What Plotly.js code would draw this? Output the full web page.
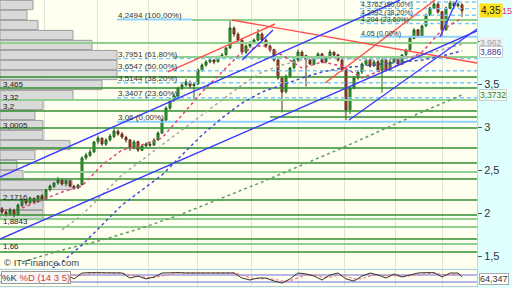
<!DOCTYPE html>
<html><head><meta charset="utf-8">
<script src="https://cdn.plot.ly/plotly-3.0.1.min.js"></script>
<style>html,body{margin:0;padding:0;background:#e0ffff}#c{width:512px;height:288px}</style>
</head><body><div id="c"></div>
<script>
// ---------- candles (index 0..115) ----------
const open  = [2.05,2.01,1.99,2.03,1.98,2.09,2.15,2.12,2.17,2.13,2.20,2.16,2.27,2.31,2.35,2.38,2.34,2.37,2.31,2.29,
2.33,2.64,2.67,2.71,2.83,2.87,2.80,2.85,2.89,2.95,2.92,2.88,2.85,2.76,2.83,2.73,2.78,2.80,2.79,2.85,
2.93,3.08,3.22,3.31,3.36,3.45,3.49,3.52,3.48,3.50,3.66,3.72,3.76,3.78,3.76,3.81,3.84,3.92,4.15,4.08,
4.01,3.87,3.94,3.98,4.01,4.08,4.01,3.94,3.90,3.78,3.57,3.41,3.59,3.69,3.78,3.87,3.83,3.78,3.73,3.80,
3.85,3.76,3.80,3.87,3.84,3.78,3.66,3.20,3.45,3.57,3.64,3.73,3.78,3.71,3.76,3.66,3.78,3.66,3.76,3.80,
3.73,3.84,3.90,4.03,4.13,4.06,4.18,4.30,4.38,4.43,4.34,4.13,4.38,4.44,4.41,4.42];
const high  = [2.07,2.04,2.06,2.05,2.11,2.17,2.16,2.19,2.18,2.21,2.22,2.28,2.33,2.36,2.42,2.40,2.39,2.38,2.33,2.34,
2.66,2.70,2.74,2.84,2.90,2.88,2.87,2.92,2.98,2.97,2.94,2.90,2.86,2.85,2.84,2.80,2.82,2.83,2.87,2.95,
3.10,3.24,3.34,3.39,3.47,3.52,3.56,3.54,3.52,3.68,3.74,3.78,3.80,3.79,3.83,3.86,3.93,4.25,4.17,4.10,
4.03,3.96,4.00,4.03,4.14,4.10,4.03,3.96,3.91,3.80,3.59,3.61,3.70,3.80,3.90,3.89,3.84,3.79,3.82,3.87,
3.86,3.82,3.90,3.88,3.85,3.79,3.67,3.47,3.59,3.66,3.75,3.80,3.79,3.78,3.77,3.80,3.79,3.78,3.82,3.81,
3.85,3.91,4.06,4.15,4.14,4.19,4.32,4.40,4.46,4.45,4.35,4.40,4.47,4.46,4.45,4.44];
const low   = [1.99,1.96,1.97,1.95,1.97,2.07,2.09,2.10,2.11,2.12,2.14,2.15,2.25,2.29,2.33,2.32,2.31,2.30,2.27,2.28,
2.32,2.62,2.65,2.70,2.80,2.78,2.78,2.83,2.87,2.90,2.86,2.82,2.72,2.74,2.71,2.72,2.76,2.77,2.78,2.84,
2.92,3.07,3.20,3.29,3.34,3.43,3.47,3.45,3.31,3.49,3.64,3.70,3.74,3.73,3.75,3.80,3.83,3.91,4.05,3.99,
3.84,3.85,3.92,3.96,4.00,3.99,3.92,3.87,3.76,3.55,3.17,3.39,3.57,3.67,3.76,3.80,3.47,3.72,3.72,3.79,
3.74,3.74,3.79,3.82,3.76,3.64,3.08,3.15,3.44,3.55,3.62,3.71,3.69,3.70,3.64,3.40,3.64,3.65,3.74,3.71,
3.72,3.82,3.88,4.02,4.04,4.05,4.16,4.29,4.37,4.32,4.05,4.12,4.37,4.39,4.39,4.28];
const close = [2.012,1.988,2.035,1.977,2.093,2.151,2.117,2.175,2.128,2.198,2.163,2.268,2.314,2.349,2.384,2.337,2.372,2.314,2.291,2.326,
2.640,2.675,2.710,2.826,2.872,2.803,2.849,2.895,2.954,2.919,2.884,2.849,2.756,2.826,2.733,2.779,2.803,2.791,2.849,2.930,
3.082,3.221,3.314,3.360,3.454,3.489,3.524,3.477,3.500,3.663,3.721,3.756,3.779,3.756,3.814,3.837,3.919,4.151,4.082,4.012,
3.872,3.942,3.977,4.012,4.082,4.012,3.942,3.896,3.779,3.570,3.407,3.593,3.686,3.779,3.872,3.826,3.779,3.733,3.802,3.849,
3.756,3.802,3.872,3.837,3.779,3.663,3.200,3.454,3.570,3.640,3.733,3.779,3.709,3.756,3.663,3.779,3.663,3.756,3.802,3.733,
3.837,3.896,4.035,4.128,4.058,4.175,4.303,4.384,4.430,4.337,4.128,4.384,4.442,4.407,4.430,4.3515];

// ---------- moving averages (sampled at candle index) ----------
const maPinkX = [5,10,15,20,25,30,35,40,45,50,55,60,65,70,75,80,85,90,95,100,105,110,115];
const maPinkY = [2.058,2.151,2.244,2.314,2.558,2.733,2.791,2.872,3.140,3.407,3.640,3.872,3.954,3.837,3.686,3.756,3.710,3.570,3.663,3.733,3.872,4.128,4.268];
const maGrayX = [15,20,25,30,35,40,45,50,55,60,65,70,75,80,85,90,95,100,105,110,115];
const maGrayY = [1.803,1.977,2.210,2.442,2.617,2.791,2.965,3.140,3.314,3.489,3.640,3.721,3.779,3.803,3.803,3.779,3.779,3.803,3.837,3.896,3.962];
const maBlueX = [10,15,20,25,30,35,40,45,50,55,60,65,70,75,80,85,90,95,100,105,110,115];
const maBlueY = [1.279,1.430,1.628,1.861,2.093,2.268,2.442,2.675,2.907,3.105,3.279,3.407,3.489,3.570,3.640,3.686,3.710,3.733,3.756,3.779,3.826,3.886];
const maGreenX = [5,15,25,35,45,55,65,75,85,95,105,115];
const maGreenY = [1.430,1.570,1.686,1.826,1.989,2.175,2.361,2.558,2.756,2.965,3.175,3.3732];

// ---------- horizontal support / resistance levels ----------
const greenDark      = [3.582,3.454,3.186,3.117,2.989,2.756,2.582,2.396,2.151,1.977,1.698,1.547];
const greenDarkFrom  = [-0.5,-0.5,-0.5,67,-0.5,-0.5,-0.5,-0.5,-0.5,-0.5,-0.5,-0.5];
const greenLight     = [4.244,3.977,3.814,3.314,2.477,1.930,1.837,1.640];
const greenLightFrom = [47.5,-0.5,42.75,-0.5,5.5,-0.5,-0.5,-0.5];

// ---------- Fibonacci retracements ----------
const fibLeft      = [4.2494,3.7951,3.6547,3.5144,3.3407,3.06];
const fibLeftPct   = ["100,00%","61,80%","50,00%","38,20%","23,60%","0,00%"];
const fibRight     = [4.4533,4.3762,4.2992,4.204,4.05];
const fibRightPct  = ["61,80%","50,00%","38,20%","23,60%","0,00%"];

// ---------- trend lines [x0, y0, x1, y1] ----------
const blueLines = [[-0.5,2.419,99.5,4.477],[-0.5,1.698,118.75,4.117],[86.75,3.082,118.75,4.140],[60,3.779,67.75,4.128],[109.5,4.047,113.75,4.477]];
const redLines  = [[57.5,4.244,118.75,3.744],[41.5,3.640,68.25,4.198],[80.75,3.512,108.25,4.477]];

// ---------- volume at price profile ----------
const profileLevels = [4.419,4.303,4.186,4.070,3.954,3.837,3.721,3.605,3.489,3.372,3.256,3.140,3.023,2.907,2.791,2.675,2.558,2.442,2.326,2.210,2.093,1.977];
const profileVol    = [33,27,38,73,92,117,117,117,102,73,43,35,43,43,70,35,17,23,72,43,43,43];
const profileLabels = ["3,465","3,32","3,2","3,0005","2,1716","1,8843","1,66"];
const profileLabelY = [3.500,3.349,3.244,3.023,2.186,1.896,1.605];

// ---------- stochastic ----------
const stochX = [14,16,18,20,22,24,26,28,30,32,34,36,38,40,42,44,46,48,50,52,54,56,58,60,62,64,66,68,70,72,74,76,78,80,82,84,86,88,90,92,94,96,98,100,102,104,106,108,110,112,114,115];
const stochK = [97,89,46,97,100,100,97,100,97,54,71,46,63,97,100,100,97,97,100,97,100,100,97,54,37,54,54,28,11,46,97,89,71,37,80,97,46,28,71,97,80,54,89,63,80,97,100,100,63,97,97,64.347];
const stochD = [92,93,76,78,92,99,99,99,98,80,66,58,58,72,88,99,99,98,98,98,99,99,98,80,56,48,50,44,28,30,56,80,82,62,62,78,72,46,48,72,84,72,74,70,74,82,92,99,84,82,88,80];
const stochBands = [20,80];

// ---------- axis ticks / grid ----------
const priceTicks = [1.5,2,2.5,3,3.5,4,4.5];
const priceTickText = ["1,5","2","2,5","3","3,5","","4,5"];
const periodGrid = [10.5,23.75,36.5,48.75,62.25,74,85.5,98.25,110];
const lastPrice = 4.3515;
const maLast = [3.9620,3.8860,3.3732];

const X0 = -0.5, X1 = 118.75;
const idx = close.map((_, i) => i);
const comma = v => String(v).replace('.', ',');

const traces = [];
traces.push({type:'bar', orientation:'h', x:profileVol, y:profileLevels, xaxis:'x', yaxis:'y', width:0.108,
  marker:{color:'#d9d9d9', line:{color:'#9c9c9c', width:1}}, hoverinfo:'skip'});

function segTrace(levels, froms, to, color, width, dash) {
  const xs = [], ys = [];
  levels.forEach((v, k) => { xs.push(froms[k], to, null); ys.push(v, v, null); });
  return {type:'scatter', mode:'lines', x:xs, y:ys, xaxis:'x2', yaxis:'y', line:{color, width, dash:dash||'solid'}, hoverinfo:'skip'};
}
traces.push(segTrace(greenLight, greenLightFrom, X1, '#8fcf8f', 2));
traces.push(segTrace(greenDark, greenDarkFrom, X1, '#2f8f2f', 1.4));
traces.push(segTrace([fibLeft[0]], [28.75], 47.5, '#8fd3ff', 2));
traces.push(segTrace([fibLeft[5]], [28.75], X1, '#8fd3ff', 2));
traces.push(segTrace(fibLeft.slice(1,5), [28.75,28.75,28.75,28.75], X1, '#7cc8ff', 1.4, '4px,3px'));
traces.push(segTrace([fibRight[4]], [89.5], X1, '#8fd3ff', 2));
traces.push(segTrace(fibRight.slice(0,4), [89.5,89.5,89.5,89.5], X1, '#7cc8ff', 1.4, '4px,3px'));

const maDash = '3px,3px';
traces.push({type:'scatter', mode:'lines', x:maGreenX, y:maGreenY, xaxis:'x2', yaxis:'y', line:{color:'#5f9f5f', width:1.5, dash:maDash}, hoverinfo:'skip'});
traces.push({type:'scatter', mode:'lines', x:maBlueX, y:maBlueY, xaxis:'x2', yaxis:'y', line:{color:'#4a4ad0', width:1.5, dash:maDash}, hoverinfo:'skip'});
traces.push({type:'scatter', mode:'lines', x:maGrayX, y:maGrayY, xaxis:'x2', yaxis:'y', line:{color:'#a8a8a8', width:1.5, dash:maDash}, hoverinfo:'skip'});
traces.push({type:'scatter', mode:'lines', x:maPinkX, y:maPinkY, xaxis:'x2', yaxis:'y', line:{color:'#e2457e', width:1.5, dash:maDash}, hoverinfo:'skip'});

function lineTrace(lines, color) {
  const xs = [], ys = [];
  lines.forEach(l => { xs.push(l[0], l[2], null); ys.push(l[1], l[3], null); });
  return {type:'scatter', mode:'lines', x:xs, y:ys, xaxis:'x2', yaxis:'y', line:{color, width:1.4}, hoverinfo:'skip'};
}
traces.push(lineTrace(redLines, '#ff4d4d'));
traces.push(lineTrace(blueLines, '#3b3bff'));

traces.push({type:'candlestick', x:idx, open, high, low, close, xaxis:'x2', yaxis:'y', whiskerwidth:0,
  increasing:{line:{color:'#1f5f1f', width:1}, fillcolor:'#2fb52f'},
  decreasing:{line:{color:'#5c2a1c', width:1}, fillcolor:'#c9421e'}, hoverinfo:'skip'});

const bands = segTrace(stochBands, [X0, X0], X1, '#6f6fe8', 1.2);
bands.xaxis = 'x3'; bands.yaxis = 'y2';
traces.push(bands);
traces.push({type:'scatter', mode:'lines', x:stochX, y:stochD, xaxis:'x3', yaxis:'y2', line:{color:'#f08080', width:1.2, dash:'3px,2px'}, hoverinfo:'skip'});
traces.push({type:'scatter', mode:'lines', x:stochX, y:stochK, xaxis:'x3', yaxis:'y2', line:{color:'#333333', width:1}, hoverinfo:'skip'});

const ann = [];
const F = 'Liberation Sans, Arial, sans-serif';
fibLeft.forEach((v, k) => ann.push({xref:'x2', yref:'y', x:28.75, y:v, xanchor:'left', yanchor:'middle', yshift:4, showarrow:false,
  text: comma(v) + ' (' + fibLeftPct[k] + ')', font:{family:F, size:8, color:'#333'}, borderpad:0}));
const fibRightShift = [0, 4, 2.5, 3, 3];
fibRight.forEach((v, k) => { if (k > 0) ann.push({xref:'x2', yref:'y', x:89.5, y:v, xanchor:'left', yanchor:'middle', yshift:fibRightShift[k], showarrow:false,
  text: comma(v) + ' (' + fibRightPct[k] + ')', font:{family:F, size:7, color:'#333'}, borderpad:0}); });
profileLabels.forEach((t, k) => ann.push({xref:'paper', yref:'y', x:0.004, y:profileLabelY[k], xanchor:'left', yanchor:'middle', showarrow:false,
  text:t, font:{family:F, size:8, color:'#222'}, borderpad:0}));
const R = 479/477;
ann.push({xref:'paper', yref:'y', x:R, y:lastPrice, xanchor:'left', yanchor:'middle', showarrow:false,
  text:'4,35', bgcolor:'#ffe21a', font:{family:F, size:10, color:'#222'}, borderpad:1});
ann.push({xref:'paper', yref:'y', x:501/477, y:lastPrice, xanchor:'left', yanchor:'middle', showarrow:false,
  text:'15', font:{family:F, size:9, color:'#e0307a'}, borderpad:0});
ann.push({xref:'paper', yref:'y', x:R, y:maLast[0], yshift:1, xanchor:'left', yanchor:'middle', showarrow:false,
  text:comma(maLast[0]), bgcolor:'#eeeeee', font:{family:F, size:8.5, color:'#a0a0a0'}, borderpad:0});
ann.push({xref:'paper', yref:'y', x:R, y:maLast[1], yshift:-1, xanchor:'left', yanchor:'middle', showarrow:false,
  text:comma(maLast[1]), bgcolor:'#ffffff', bordercolor:'#cccccc', font:{family:F, size:8.5, color:'#3a3a99'}, borderpad:0});
ann.push({xref:'paper', yref:'y', x:R, y:maLast[2], xanchor:'left', yanchor:'middle', showarrow:false,
  text:comma(maLast[2]), bgcolor:'#f4fff4', bordercolor:'#cccccc', font:{family:F, size:8.5, color:'#2a7a2a'}, borderpad:0});
ann.push({xref:'paper', yref:'paper', x:R, y:9/288, xanchor:'left', yanchor:'middle', showarrow:false,
  text:comma(stochK[stochK.length-1]), bgcolor:'#ffffff', bordercolor:'#aaaaaa', font:{family:F, size:9, color:'#333'}, borderpad:0});
ann.push({xref:'paper', yref:'paper', x:0.004, y:26/288, xanchor:'left', yanchor:'middle', showarrow:false,
  text:'© IT-Finance.com', font:{family:F, size:9.5, color:'#444'}});
ann.push({xref:'paper', yref:'paper', x:0.002, y:11/288, xanchor:'left', yanchor:'middle', showarrow:false,
  text:'%K <span style="color:#d43c3c">%D (14 3 5)</span>', bgcolor:'#f6f6f6', bordercolor:'#9a9a9a', font:{family:F, size:9.5, color:'#333'}, borderpad:0});

const layout = {
  width:512, height:288, margin:{l:0, r:35, t:0, b:0},
  paper_bgcolor:'#e0ffff', plot_bgcolor:'#ffffef', showlegend:false, separators:',.',
  font:{family:F},
  xaxis:{domain:[0,1], range:[0,477], visible:false, fixedrange:true},
  xaxis2:{overlaying:'x', anchor:'y', range:[X0, X1], tickvals:periodGrid, showticklabels:false, ticks:'',
    showgrid:true, gridcolor:'#e2e2d8', gridwidth:1, zeroline:false, rangeslider:{visible:false}},
  xaxis3:{domain:[0,1], anchor:'y2', range:[X0, X1], tickvals:periodGrid, showticklabels:false, ticks:'',
    showgrid:true, gridcolor:'#e2e2d8', zeroline:false, showline:true, mirror:true, linecolor:'#b9c9cf', rangeslider:{visible:false}},
  yaxis:{domain:[20/288, 1], range:[4.477 - 268/86, 4.477], side:'right', anchor:'x', tickvals:priceTicks, ticktext:priceTickText,
    ticks:'outside', ticklen:4, tickcolor:'#555', showgrid:false, zeroline:false, showline:true, linecolor:'#c4d4d4',
    tickfont:{family:F, size:11, color:'#333'}},
  yaxis2:{domain:[2/288, 18/288], range:[-14.3, 122.8], anchor:'x3', side:'right', showticklabels:false, ticks:'',
    showgrid:false, zeroline:false, showline:true, mirror:true, linecolor:'#b9c9cf'},
  annotations: ann
};
Plotly.newPlot('c', traces, layout, {staticPlot:true, displayModeBar:false});
</script></body></html>
